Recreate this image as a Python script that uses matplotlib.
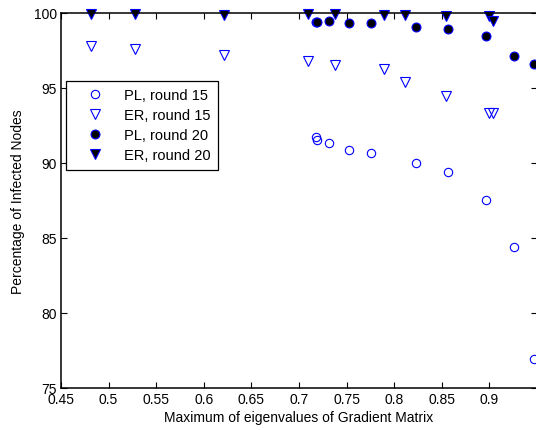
import numpy as np
import matplotlib
matplotlib.use("Agg")
import matplotlib.pyplot as plt

plt.rcParams["font.family"] = ["Liberation Sans", "DejaVu Sans"]

# ── Data ──────────────────────────────────────────────────────────────────────
pl_x = [0.7175, 0.7186, 0.731, 0.7525, 0.776, 0.8226, 0.8565, 0.896, 0.926, 0.947]
pl_r15 = [91.75, 91.53, 91.33, 90.85, 90.67, 89.98, 89.38, 87.53, 84.38, 76.93]
pl_r20 = [99.42, 99.40, 99.44, 99.35, 99.35, 99.04, 98.95, 98.49, 97.11, 96.60]

er_x = [0.482, 0.528, 0.621, 0.709, 0.738, 0.789, 0.811, 0.854, 0.900, 0.904]
er_r15 = [97.82, 97.60, 97.20, 96.82, 96.56, 96.24, 95.38, 94.49, 93.31, 93.31]
er_r20 = [99.90, 99.90, 99.88, 99.90, 99.90, 99.88, 99.88, 99.80, 99.78, 99.45]

x_ticks = [0.45, 0.5, 0.55, 0.6, 0.65, 0.7, 0.75, 0.8, 0.85, 0.9]
y_ticks = [75, 80, 85, 90, 95, 100]

# ── Figure ────────────────────────────────────────────────────────────────────
fig = plt.figure(figsize=(5.36, 4.31), dpi=100)
ax = fig.add_axes([61 / 536, 42 / 431, 476 / 536, 375 / 431])

blue = (0, 0, 1)
ax.plot(pl_x, pl_r15, "o", ms=6.0, mfc="none", mec=blue, mew=0.8,
        label="PL, round 15", clip_on=False)
ax.plot(er_x, er_r15, "v", ms=7.5, mfc="none", mec=blue, mew=0.8,
        label="ER, round 15", clip_on=False)
ax.plot(pl_x, pl_r20, "o", ms=6.4, mfc="black", mec=blue, mew=0.8,
        label="PL, round 20", clip_on=False)
ax.plot(er_x, er_r20, "v", ms=7.5, mfc="black", mec=blue, mew=0.8,
        label="ER, round 20", clip_on=False)

ax.set_xlim(0.45, 0.95)
ax.set_ylim(75, 100)
ax.set_xticks(x_ticks)
ax.set_xticklabels([f"{t:g}" for t in x_ticks])
ax.set_yticks(y_ticks)
ax.tick_params(direction="in", length=4, width=0.8, top=True, right=True,
               labelsize=10, pad=3, colors="black")
for sp in ax.spines.values():
    sp.set_linewidth(1.1)

ax.set_xlabel("Maximum of eigenvalues of Gradient Matrix", fontsize=10, labelpad=3)
ax.set_ylabel("Percentage of Infected Nodes", fontsize=10, labelpad=6)

leg = ax.legend(loc="upper left", bbox_to_anchor=(0.0105, 0.8195),
                borderaxespad=0, fontsize=10.5, fancybox=False, edgecolor="black",
                framealpha=1, handlelength=3.0, handletextpad=0.45,
                labelspacing=0.42, borderpad=0.5)
leg.get_frame().set_linewidth(0.9)

fig.savefig("out.png", dpi=100)
